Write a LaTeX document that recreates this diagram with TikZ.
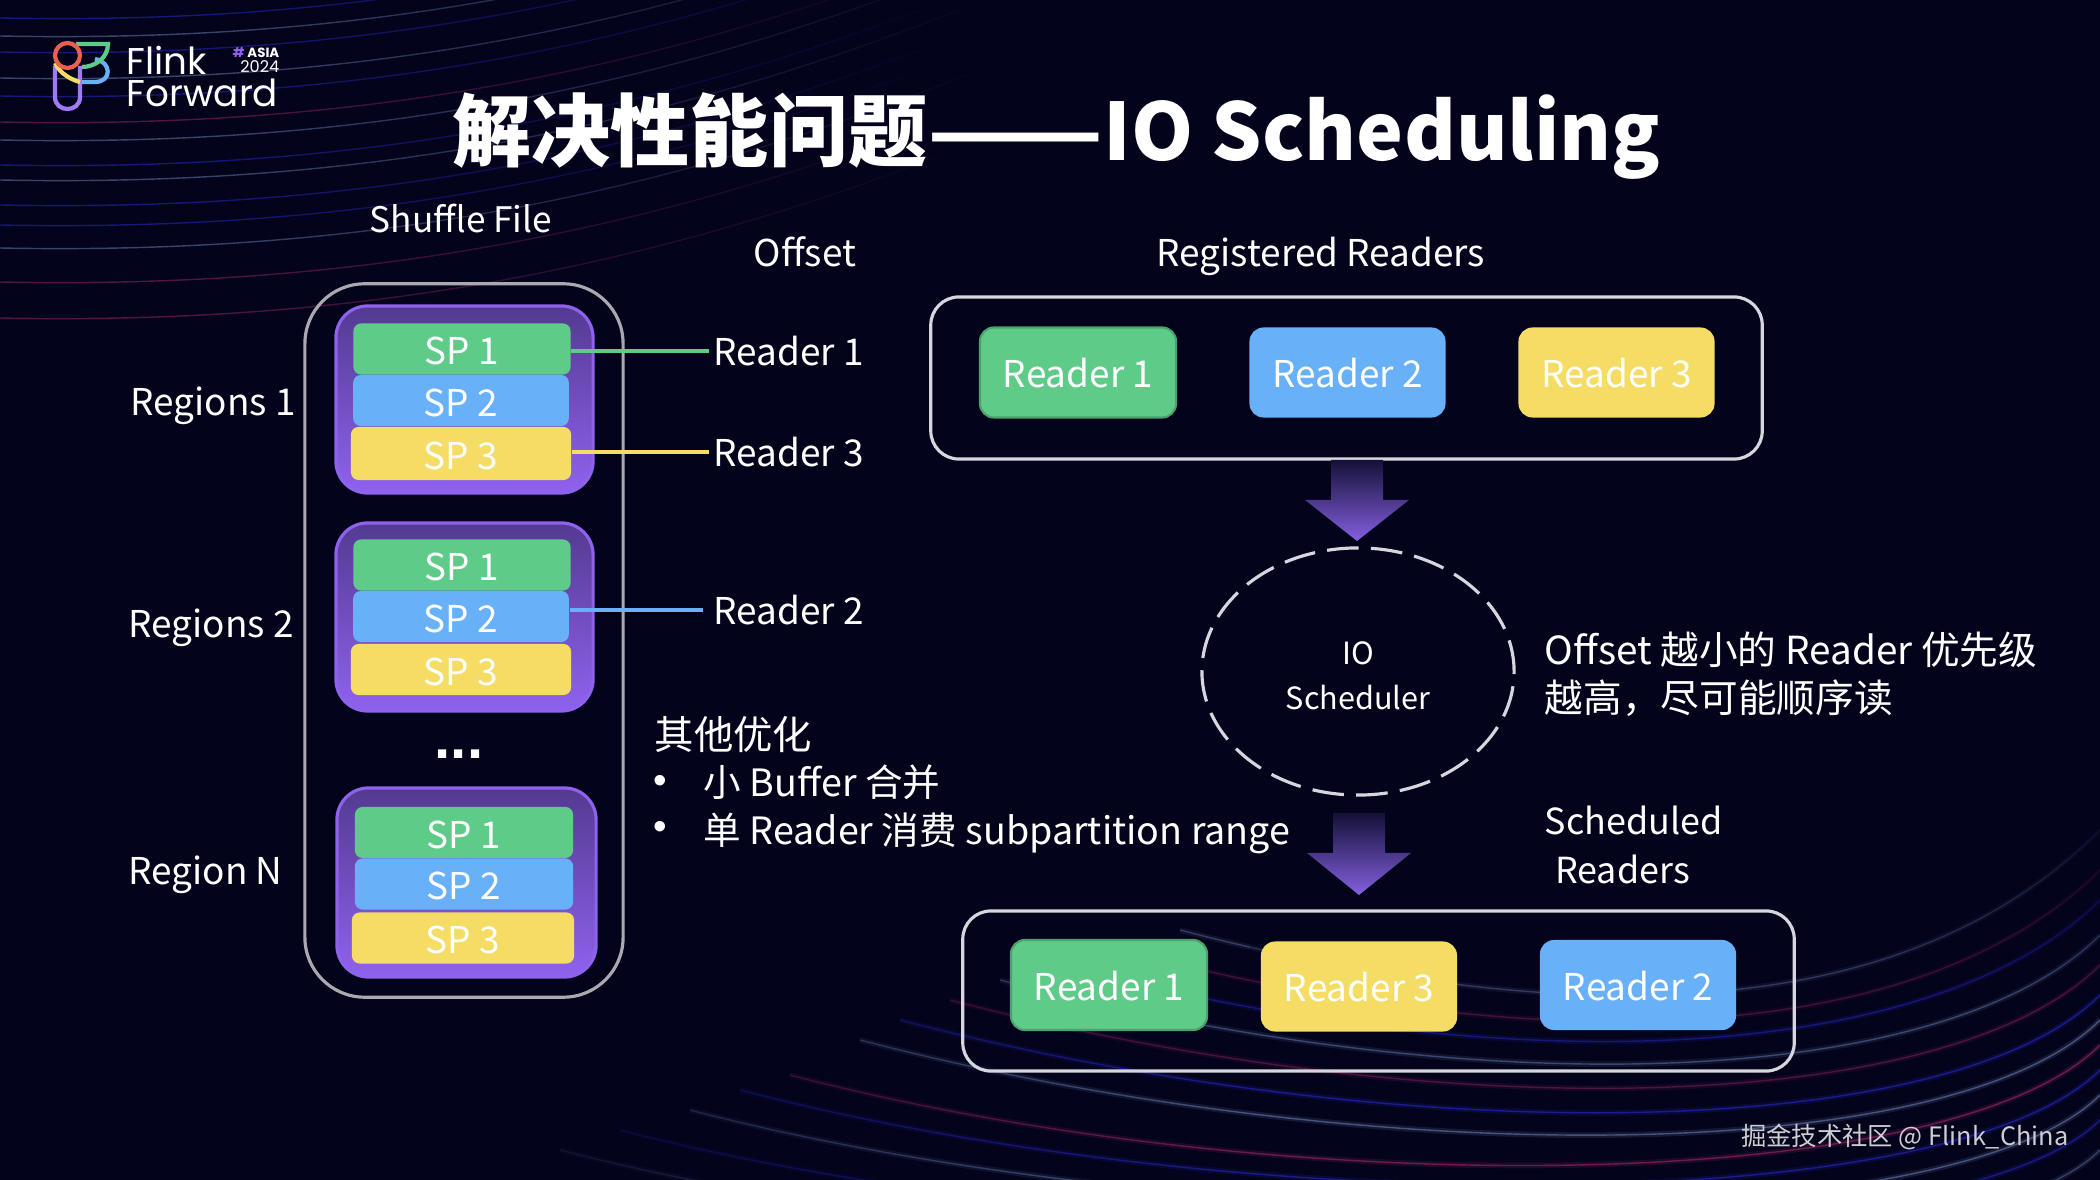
\documentclass[tikz,border=0pt]{standalone}
\usepackage{fontspec}
\usepackage{graphicx}
\setmainfont{Noto Sans CJK SC}
\newfontfamily\logofont{Poppins}
\newfontfamily\dotfont{Liberation Sans}
\usetikzlibrary{calc,shapes.geometric,fadings}
\definecolor{Night}{HTML}{03031C}
\definecolor{Ink}{HTML}{FFFFFF}
\definecolor{SpGreen}{HTML}{5FCB88}
\definecolor{SpBlue}{HTML}{68B0F8}
\definecolor{SpYellow}{HTML}{F5DC65}
\definecolor{Violet}{HTML}{8F62EE}
\definecolor{VioletDark}{HTML}{533A90}
\definecolor{ArrowTop}{HTML}{141038}
\definecolor{ArrowEnd}{HTML}{8460E0}
\definecolor{Frame}{HTML}{D6D6DE}
\definecolor{FrameGrey}{HTML}{A9A9AE}
\definecolor{LogoRed}{HTML}{E8604F}
\definecolor{StreakBlue}{HTML}{2B2BD0}
\definecolor{StreakGrey}{HTML}{6F86B8}
\definecolor{StreakRed}{HTML}{A02868}
\tikzset{
  txt/.style={font=\fontsize{10.5}{13.7}\selectfont,text=Ink,inner sep=2pt,text height=.8em,text depth=0pt},
  txtblock/.style={text=Ink,inner sep=2pt,align=left},
  spbox/.style={rounded corners=6pt/2.8,minimum height=0.51cm,inner sep=0pt,text=Ink,font=\fontsize{10.5}{13}\selectfont,text height=.9em,text depth=0pt},
  rdbox/.style={rounded corners=4pt,minimum width=1.96cm,minimum height=0.9cm,inner sep=0pt,text=Ink,font=\fontsize{10.5}{13}\selectfont,text height=.88em,text depth=0pt},
  regionbox/.style={rounded corners=9pt,draw=Violet,line width=0.9pt,top color=VioletDark,bottom color=Violet,inner sep=0pt},
  frame/.style={draw=Frame,line width=0.9pt,rounded corners=8pt,inner sep=0pt},
  streak/.style={line width=0.4pt},
  logoline/.style={line width=1.2pt},
  tieline/.style={line width=1pt},
}
\newcommand{\flowarrow}[2]{\shade[top color=ArrowTop,bottom color=ArrowEnd] ($(#1)+(-26,0)$) -- ($(#1)+(26,0)$) -- ($(#1)+(26,40)$) -- ($(#1)+(52,40)$) -- (#2) -- ($(#1)+(-52,40)$) -- ($(#1)+(-26,40)$) -- cycle;}
\begin{document}
\begin{tikzpicture}[x=0.01cm,y=-0.01cm]
\useasboundingbox (0,0) rectangle (2100,1180);
\fill[Night] (0,0) rectangle (2100,1180);
\foreach \y/\c in {18/StreakBlue,36/StreakGrey,52/StreakBlue,78/StreakGrey,96/StreakBlue,122/StreakRed,140/StreakGrey,165/StreakBlue,180/StreakGrey,205/StreakBlue,225/StreakBlue,248/StreakGrey,282/StreakRed,318/StreakRed}
  \draw[streak,\c,opacity=.5] (0,\y) .. controls (400,\y+8) and (800,\y-60) .. (1300,\y-330);
\fill[Night,path fading=west] (200,0) rectangle (1000,470);
\fill[Night] (1000,0) rectangle (1400,470);
\foreach \sx/\sy/\ey/\c/\o in {1180/930/830/StreakGrey/.4,1120/950/870/StreakRed/.35,1060/965/900/StreakBlue/.45,1000/980/935/StreakGrey/.45,950/1000/965/StreakRed/.4,900/1020/995/StreakBlue/.55,860/1040/1020/StreakGrey/.55,790/1075/1045/StreakRed/.6,740/1090/1070/StreakBlue/.55,690/1110/1095/StreakGrey/.55,620/1130/1120/StreakBlue/.5,560/1150/1150/StreakGrey/.4}{
  \draw[\c,line width=1.6pt,opacity=\o*.3] (\sx,\sy) .. controls (\sx+500,\sy+130) and (1950,\ey+150) .. (2100,\ey);
  \draw[streak,\c,opacity=\o] (\sx,\sy) .. controls (\sx+500,\sy+130) and (1950,\ey+150) .. (2100,\ey);
}
\fill[Night,path fading=east] (300,880) rectangle (1250,1180);
\fill[Night,path fading=south] (1250,780) rectangle (2100,1010);
\draw[logoline,Violet!85!white] (55,66) -- (55,97) .. controls (55,113) and (80,113) .. (80,97) -- (80,66);
\draw[logoline,SpYellow] (55,63) .. controls (60,74) and (72,80) .. (80,82);
\draw[logoline,SpBlue] (95,59) .. controls (112,62) and (112,82) .. (95,82) -- (82,82);
\draw[logoline,SpGreen] (76,44) -- (108,44) .. controls (108,58) and (95,67) .. (82,67);
\draw[logoline,LogoRed] (67.5,55.5) circle (12.5);
\node[anchor=west,inner sep=0pt,text=Ink,font=\logofont\fontsize{10.6}{11}\selectfont] (flink) at (126,60) {Flink};
\node[anchor=west,inner sep=0pt,text=Ink,font=\logofont\fontsize{10.6}{11}\selectfont] (forward) at (126,93) {Forward};
\node[anchor=east,inner sep=0pt,text=Ink,font=\logofont\bfseries\fontsize{3.8}{4}\selectfont] (asia) at (280,53) {\textcolor{Violet}{\#} ASIA};
\node[anchor=east,inner sep=0pt,text=Ink,font=\logofont\fontsize{4.6}{5}\selectfont] (year) at (280,67) {2024};
\node[text=Ink,inner sep=2pt,font=\bfseries\fontsize{22.5}{26}\selectfont] (title) at (1056.5,136) {解决性能问题\scalebox{1.3}[1]{——}IO Scheduling};
\node[txt,font=\fontsize{10}{13}\selectfont] (shuffle) at (461,218) {Shuffle File};
\node[txt] (offset) at (805,252) {Offset};
\node[txt] (registered) at (1321,252) {Registered Readers};
\node[txt,anchor=west] (regiona) at (123,401) {Regions 1};
\node[txt,anchor=west] (regionb) at (121,623) {Regions 2};
\node[txt,anchor=west] (regionn) at (121,870) {Region N};
\node[draw=FrameGrey,line width=0.9pt,rounded corners=17pt,minimum width=3.18cm,minimum height=7.13cm,inner sep=0pt] (file) at (464,640.5) {};
\node[regionbox,minimum width=2.57cm,minimum height=1.87cm] (ra) at (464.5,399.5) {};
\node[regionbox,minimum width=2.57cm,minimum height=1.88cm] (rb) at (464.5,617) {};
\node[regionbox,minimum width=2.59cm,minimum height=1.89cm] (rn) at (466.5,882.5) {};
\node[spbox,fill=SpGreen,minimum width=2.17cm] (asp1) at (462,349) {SP 1};
\node[spbox,fill=SpBlue,minimum width=2.155cm] (asp2) at (461,400.5) {SP 2};
\node[spbox,fill=SpYellow,minimum width=2.20cm,minimum height=0.53cm] (asp3) at (461,453.5) {SP 3};
\node[spbox,fill=SpGreen,minimum width=2.17cm] (bsp1) at (462,565) {SP 1};
\node[spbox,fill=SpBlue,minimum width=2.155cm] (bsp2) at (461,616.5) {SP 2};
\node[spbox,fill=SpYellow,minimum width=2.20cm] (bsp3) at (461,669.5) {SP 3};
\node[spbox,fill=SpGreen,minimum width=2.18cm] (nsp1) at (464,832.5) {SP 1};
\node[spbox,fill=SpBlue,minimum width=2.18cm] (nsp2) at (464,884) {SP 2};
\node[spbox,fill=SpYellow,minimum width=2.22cm] (nsp3) at (463,938) {SP 3};
\node[text=Ink,inner sep=0pt,font=\dotfont\bfseries\fontsize{16.5}{16.5}\selectfont] (dots) at (459,754) {...};
\node[txt,anchor=west] (lba) at (706,351) {Reader 1};
\node[txt,anchor=west] (lbc) at (706,452) {Reader 3};
\node[txt,anchor=west] (lbb) at (706,610) {Reader 2};
\draw[tieline,SpGreen] (asp1.east |- lba.west) -- ($(lba.west)+(3,0)$);
\draw[tieline,SpYellow] (asp3.east |- lbc.west) -- ($(lbc.west)+(3,0)$);
\draw[tieline,SpBlue] (bsp2.east |- lbb.west) -- ($(lbb.west)+(-3,0)$);
\node[frame,minimum width=8.31cm,minimum height=1.62cm] (regbox) at (1346.5,378) {};
\node[rdbox,fill=SpGreen,draw=SpGreen!80!black,line width=0.6pt] (ra1) at (1078,372.5) {Reader 1};
\node[rdbox,fill=SpBlue] (ra2) at (1347.5,372.5) {Reader 2};
\node[rdbox,fill=SpYellow] (ra3) at (1616.5,372.5) {Reader 3};
\node[draw=Frame,line width=0.9pt,dash pattern=on 9pt off 3.5pt,ellipse,minimum width=3.12cm,minimum height=2.47cm,inner sep=0pt] (sched) at (1358,671.5) {};
\node[text=Ink,inner sep=0pt,align=center,font=\fontsize{8.7}{12.8}\selectfont] (schedname) at ($(sched.center)+(0,4)$) {IO\\Scheduler};
\coordinate (a1) at (1357,460);
\coordinate (a1tip) at (1357,541);
\coordinate (a2) at (1359,813);
\coordinate (a2tip) at (1359,895);
\flowarrow{a1}{a1tip}
\flowarrow{a2}{a2tip}
\node[txtblock,anchor=west,font=\fontsize{11}{13.7}\selectfont] (note) at (1537,674) {Offset 越小的 Reader 优先级\\越高，尽可能顺序读};
\node[txtblock,anchor=west,font=\fontsize{10.2}{13.7}\selectfont] (scheduled) at (1537,845) {Scheduled\\\hspace{3pt}Readers};
\node[txt,anchor=west,font=\fontsize{11.2}{13}\selectfont] (other) at (647,735) {其他优化};
\node[text=Ink,inner sep=0pt,font=\dotfont\fontsize{11}{11}\selectfont] (dota) at (660,784) {•};
\node[txt,anchor=west,font=\fontsize{10.7}{13}\selectfont] (opta) at (696,782) {小 Buffer 合并};
\node[text=Ink,inner sep=0pt,font=\dotfont\fontsize{11}{11}\selectfont] (dotb) at (660,830) {•};
\node[txt,anchor=west,font=\fontsize{10.7}{13}\selectfont] (optb) at (696,830) {单 Reader 消费 subpartition range};
\node[frame,minimum width=8.31cm,minimum height=1.60cm] (schbox) at (1378.5,991) {};
\node[rdbox,fill=SpGreen,draw=SpGreen!80!black,line width=0.6pt] (rb1) at (1109,985) {Reader 1};
\node[rdbox,fill=SpYellow] (rb3) at (1359,986.5) {Reader 3};
\node[rdbox,fill=SpBlue] (rb2) at (1638,985) {Reader 2};
\node[anchor=east,inner sep=0pt,text=Ink!80!Night,font=\fontsize{7.2}{9}\selectfont] (mark) at (2069,1137) {掘金技术社区 @ Flink\_China};
\end{tikzpicture}
\end{document}
